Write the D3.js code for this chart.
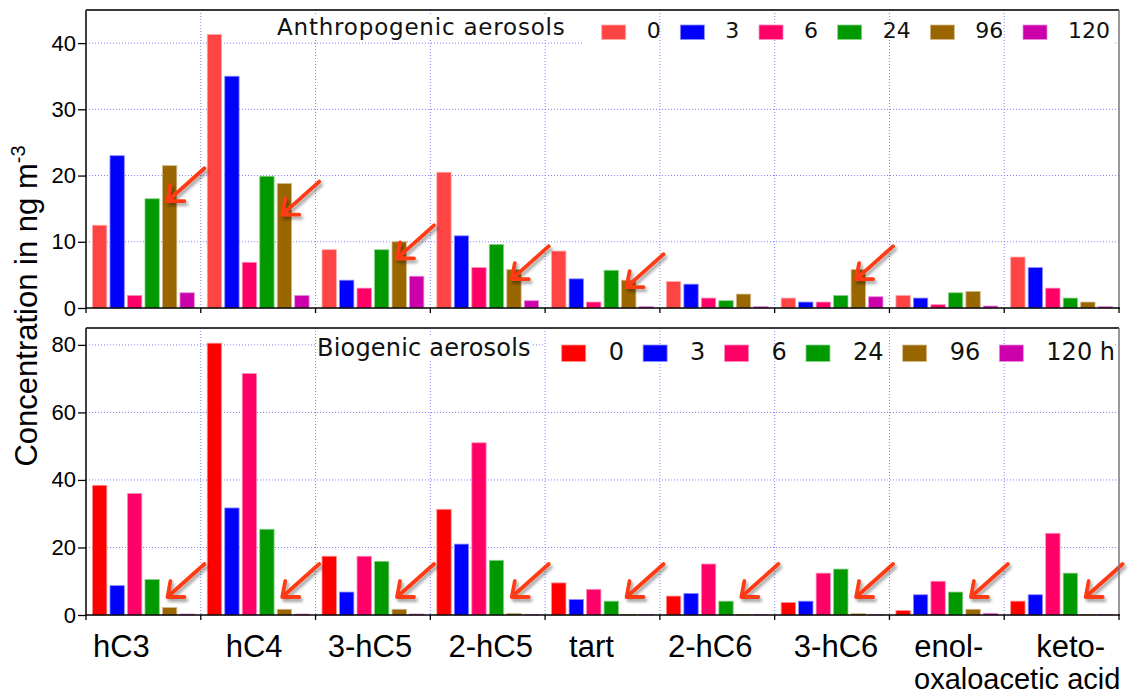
<!DOCTYPE html>
<html>
<head>
<meta charset="utf-8">
<script src="https://cdn.jsdelivr.net/npm/d3@7"></script>
<style>
  body { margin: 0; background: #fff; }
  svg { display: block; }
</style>
</head>
<body>
<svg id="chart" width="1140" height="695"></svg>
<script>
// acids on the x axis and sampling hours (series)
const acids = ['hC3', 'hC4', '3-hC5', '2-hC5', 'tart', '2-hC6', '3-hC6', 'enol-', 'keto-']
const hours = ['0', '3', '6', '24', '96', '120']

// anthropogenic aerosols, ng m-3
const anthro0   = [12.5, 41.3, 8.8, 20.5, 8.6, 4.0, 1.5, 1.9, 7.7]
const anthro3   = [23.0, 35.0, 4.2, 10.9, 4.4, 3.6, 0.9, 1.5, 6.1]
const anthro6   = [1.9, 6.9, 3.0, 6.1, 0.9, 1.5, 0.9, 0.5, 3.0]
const anthro24  = [16.5, 19.9, 8.8, 9.6, 5.7, 1.1, 1.9, 2.3, 1.5]
const anthro96  = [21.5, 18.8, 10.0, 5.8, 4.2, 2.1, 5.8, 2.5, 0.9]
const anthro120 = [2.3, 1.9, 4.8, 1.1, 0.2, 0.2, 1.7, 0.3, 0.2]

// biogenic aerosols, ng m-3
const bio0   = [38.4, 80.5, 17.4, 31.3, 9.5, 5.6, 3.7, 1.3, 4.1]
const bio3   = [8.7, 31.7, 6.8, 21.0, 4.6, 6.4, 4.1, 6.0, 6.0]
const bio6   = [36.0, 71.5, 17.4, 51.0, 7.6, 15.1, 12.4, 10.0, 24.2]
const bio24  = [10.5, 25.4, 15.9, 16.2, 4.1, 4.1, 13.6, 6.8, 12.4]
const bio96  = [2.2, 1.7, 1.7, 0.5, 0.2, 0.2, 0.4, 1.7, 0.2]
const bio120 = [0.3, 0.3, 0.3, 0.2, 0.2, 0.2, 0.2, 0.5, 0.2]

// tick labels
const anthroTicks = [0, 10, 20, 30, 40]
const bioTicks = [0, 20, 40, 60, 80]
const anthroLegend = ['0', '3', '6', '24', '96', '120']
const bioLegend = ['0', '3', '6', '24', '96', '120 h']

// acids whose 96 h bar is marked with an arrow
const anthroArrows = ['hC3', 'hC4', '3-hC5', '2-hC5', 'tart', '3-hC6']
const bioArrows = acids

// ---- layout ----
const left = 86, right = 1119
const anthroColors = ['#ff4444', '#0000ff', '#ff0066', '#009900', '#996600', '#cc00aa']
const bioColors    = ['#ff0000', '#0000ff', '#ff0066', '#009900', '#996600', '#cc00aa']
const labelShift = { 'hC3': -22, 'hC4': -4, '3-hC5': -3, '2-hC5': 3, 'tart': -11, '2-hC6': -7, '3-hC6': 4, 'enol-': 2, 'keto-': 9 }
const sansFont = 'Liberation Sans, Arial, sans-serif'
const legendFont = 'DejaVu Sans, Verdana, sans-serif'

const svg = d3.select('#chart')

// drop shadow for arrows
const defs = svg.append('defs')
defs.append('filter')
    .attr('id', 'shadow')
    .attr('x', '-30%').attr('y', '-30%').attr('width', '160%').attr('height', '160%')
  .append('feDropShadow')
    .attr('dx', 2).attr('dy', 3).attr('stdDeviation', 1.5)
    .attr('flood-color', '#000').attr('flood-opacity', 0.35)

const x0 = d3.scaleBand().domain(acids).range([left, right])
const x1 = d3.scaleBand().domain(hours).range([0, x0.bandwidth()])
    .paddingInner(0.18).paddingOuter(0.37)

const drawPanel = (p) => {
    const y = d3.scaleLinear().domain([0, p.max]).range([p.bottom, p.top])
    const g = svg.append('g')

    // horizontal grid
    g.selectAll('.hgrid')
        .data(p.ticks.filter(t => t > 0))
        .enter().append('line')
        .attr('x1', left).attr('x2', right)
        .attr('y1', d => y(d)).attr('y2', d => y(d))
        .attr('stroke', '#8080ff').attr('stroke-width', 1)
        .attr('stroke-dasharray', '1,2')

    // legend area hides horizontal grid
    g.append('rect')
        .attr('x', p.legendBox[0]).attr('y', p.top + 1)
        .attr('width', p.legendBox[1] - p.legendBox[0]).attr('height', p.legendBox[2])
        .attr('fill', '#fff')

    // vertical grid at category boundaries
    g.selectAll('.vgrid')
        .data(acids.slice(1))
        .enter().append('line')
        .attr('x1', d => x0(d)).attr('x2', d => x0(d))
        .attr('y1', p.top).attr('y2', p.bottom)
        .attr('stroke', '#8080ff').attr('stroke-width', 1)
        .attr('stroke-dasharray', '1,2')

    // title with white box
    const title = g.append('text')
        .attr('x', p.titleX).attr('y', p.titleY)
        .attr('font-family', legendFont).attr('font-size', p.titleSize)
        .attr('letter-spacing', p.titleSpacing)
        .attr('fill', '#111')
        .text(p.title)
    const bb = title.node().getBBox()
    g.insert('rect', 'text')
        .attr('x', bb.x).attr('y', bb.y + 2)
        .attr('width', bb.width).attr('height', bb.height - 3)
        .attr('fill', '#fff')

    // bars
    const rows = acids.map((a, i) => ({ acid: a, values: p.series.map(s => s[i]) }))
    const groups = g.selectAll('.grp')
        .data(rows)
        .enter().append('g')
        .attr('transform', d => `translate(${x0(d.acid)},0)`)
    groups.selectAll('rect')
        .data(d => d.values.map((v, k) => ({ hour: hours[k], value: v, k: k })))
        .enter().append('rect')
        .attr('x', d => x1(d.hour))
        .attr('width', x1.bandwidth())
        .attr('y', d => y(d.value))
        .attr('height', d => y(0) - y(d.value))
        .attr('fill', d => p.colors[d.k])
        .attr('stroke', d => d3.interpolateRgb(p.colors[d.k], '#fff')(0.55))
        .attr('stroke-width', 0.8)

    // arrows pointing at the 96 h bars
    const k96 = hours.indexOf('96')
    const arrows = g.selectAll('.arrow')
        .data(p.arrows)
        .enter().append('g')
        .attr('filter', 'url(#shadow)')
        .attr('transform', a => {
            const v = p.series[k96][acids.indexOf(a)]
            const tx = x0(a) + x1('96') + 5
            const ty = Math.min(y(v * 0.75), y(0) - 18)
            return `translate(${tx},${ty})`
        })
    arrows.append('path')
        .attr('d', 'M37,-33 L0,0 M0,0 L17,0 M0,0 L3,-16')
        .attr('fill', 'none')
        .attr('stroke', '#ff3b14')
        .attr('stroke-width', 3.8)
        .attr('stroke-linecap', 'round')
        .attr('stroke-linejoin', 'round')

    // legend
    const lg = g.append('g')
    const labels = lg.selectAll('.lab')
        .data(p.legend)
        .enter().append('text')
        .attr('font-family', legendFont).attr('font-size', p.legendSize)
        .attr('fill', '#111')
        .attr('y', p.legendY)
        .text(d => d)
    const widths = labels.nodes().map(n => n.getComputedTextLength())
    const fixed = d3.sum(widths) + p.legend.length * (24 + p.swGap)
    const gap = (p.legendEnd - p.legendStart - fixed) / (p.legend.length - 1)
    let cx = p.legendStart
    const swx = []
    widths.forEach(w => { swx.push(cx); cx += 24 + p.swGap + w + gap })
    labels.attr('x', (d, i) => swx[i] + 24 + p.swGap)
    lg.selectAll('.sw')
        .data(p.legend)
        .enter().append('rect')
        .attr('x', (d, i) => swx[i])
        .attr('y', p.swY)
        .attr('width', 24).attr('height', p.swH)
        .attr('fill', (d, i) => p.colors[i])
        .attr('stroke', (d, i) => d3.interpolateRgb(p.colors[i], '#fff')(0.55))
        .attr('stroke-width', 0.8)

    // y axis
    const yAxis = d3.axisLeft(y).tickValues(p.ticks).tickSize(8).tickSizeOuter(0).tickPadding(2)
    const ya = g.append('g')
        .attr('transform', `translate(${left},0)`)
        .call(yAxis)
    ya.select('.domain').remove()
    ya.selectAll('line').attr('stroke', '#000').attr('stroke-width', 1.3)
    ya.selectAll('text')
        .attr('font-family', sansFont).attr('font-size', 22)
        .attr('fill', '#000')

    // frame: left axis, top and right border, x axis with boundary ticks
    g.append('line')
        .attr('x1', left).attr('x2', left).attr('y1', p.top).attr('y2', p.bottom)
        .attr('stroke', '#000').attr('stroke-width', 1.5)
    g.append('line')
        .attr('x1', left).attr('x2', right).attr('y1', p.top).attr('y2', p.top)
        .attr('stroke', '#3a3a3a').attr('stroke-width', 2)
    g.append('line')
        .attr('x1', right).attr('x2', right).attr('y1', p.top).attr('y2', p.bottom)
        .attr('stroke', '#777').attr('stroke-width', 1.5)
    g.append('line')
        .attr('x1', left).attr('x2', right + 1).attr('y1', y(0)).attr('y2', y(0))
        .attr('stroke', '#000').attr('stroke-width', 1.5)
    g.selectAll('.xtick')
        .data(acids.map(a => x0(a)).concat([right]))
        .enter().append('line')
        .attr('x1', d => d).attr('x2', d => d)
        .attr('y1', y(0)).attr('y2', y(0) + 5)
        .attr('stroke', '#000').attr('stroke-width', 1.3)

    return y
}

drawPanel({
    top: 10, bottom: 308, max: 45, ticks: anthroTicks,
    series: [anthro0, anthro3, anthro6, anthro24, anthro96, anthro120],
    colors: anthroColors, arrows: anthroArrows,
    title: 'Anthropogenic aerosols', titleX: 277, titleY: 34.5, titleSize: 23, titleSpacing: 0.8,
    legend: anthroLegend, legendStart: 601.7, legendEnd: 1110, legendY: 38.3, legendSize: 22,
    swY: 25, swH: 14.5, swGap: 21, legendBox: [583, 1113, 35]
})

drawPanel({
    top: 328, bottom: 615, max: 85, ticks: bioTicks,
    series: [bio0, bio3, bio6, bio24, bio96, bio120],
    colors: bioColors, arrows: bioArrows,
    title: 'Biogenic aerosols', titleX: 317, titleY: 355.5, titleSize: 24, titleSpacing: 0.2,
    legend: bioLegend, legendStart: 561.7, legendEnd: 1115, legendY: 360, legendSize: 24,
    swY: 345, swH: 16.5, swGap: 23, legendBox: [543, 1113, 38]
})

// category labels under the lower panel
svg.append('g').selectAll('text')
    .data(acids)
    .enter().append('text')
    .attr('x', d => x0(d) + x0.bandwidth() / 2 + labelShift[d])
    .attr('y', 657)
    .attr('text-anchor', 'middle')
    .attr('font-family', sansFont).attr('font-size', 31)
    .attr('fill', '#000')
    .text(d => d)

svg.append('text')
    .attr('x', 914)
    .attr('y', 689)
    .attr('font-family', sansFont).attr('font-size', 29)
    .attr('fill', '#000')
    .text('oxaloacetic acid')

// y axis title
const yTitle = svg.append('text')
    .attr('transform', 'translate(37,306) rotate(-90)')
    .attr('text-anchor', 'middle')
    .attr('font-family', sansFont).attr('font-size', 31)
    .attr('fill', '#000')
yTitle.append('tspan').text('Concentration in ng m')
yTitle.append('tspan').attr('dy', -12).attr('font-size', 20).text('-3')
</script>
</body>
</html>
